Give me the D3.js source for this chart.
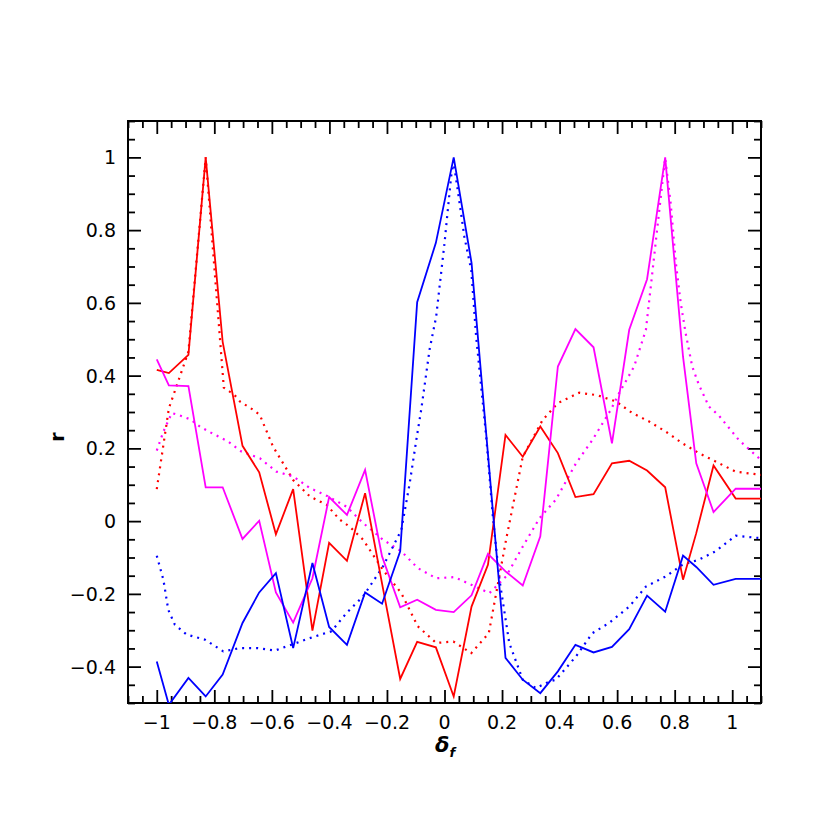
<!DOCTYPE html>
<html>
<head>
<meta charset="utf-8">
<script src="https://cdn.jsdelivr.net/npm/d3@7"></script>
<style>
  body { margin: 0; background: #fff; }
  text { font-family: "DejaVu Sans", sans-serif; }
</style>
</head>
<body>
<div id="chart"></div>
<script>
// shared x positions of the solid curves
var xSolid = [-1.0, -0.958, -0.89, -0.83, -0.771, -0.702, -0.644, -0.586, -0.526, -0.459, -0.401,
  -0.339, -0.276, -0.217, -0.154, -0.095, -0.030, 0.032, 0.094, 0.151, 0.212, 0.272, 0.333,
  0.394, 0.455, 0.518, 0.582, 0.642, 0.704, 0.767, 0.829, 0.875, 0.935, 1.012, 1.1];

var redSolid = [0.416, 0.407, 0.457, 1.0, 0.493, 0.207, 0.134, -0.036, 0.088, -0.301, -0.060,
  -0.109, 0.077, -0.172, -0.434, -0.332, -0.347, -0.482, -0.235, -0.120, 0.237, 0.177, 0.260,
  0.187, 0.066, 0.074, 0.159, 0.166, 0.139, 0.093, -0.161, -0.033, 0.153, 0.062, 0.062];

var blueSolid = [-0.386, -0.505, -0.431, -0.482, -0.422, -0.280, -0.196, -0.143, -0.349, -0.115, -0.291,
  -0.340, -0.196, -0.227, -0.083, 0.602, 0.765, 1.0, 0.710, 0.185, -0.376, -0.436, -0.473,
  -0.413, -0.340, -0.361, -0.346, -0.297, -0.205, -0.249, -0.095, -0.126, -0.175, -0.159, -0.159];

var magentaSolid = [0.445, 0.373, 0.371, 0.093, 0.093, -0.049, 0.001, -0.196, -0.279, -0.157, 0.066,
  0.017, 0.141, -0.097, -0.237, -0.216, -0.244, -0.250, -0.204, -0.090, -0.138, -0.177, -0.042,
  0.425, 0.528, 0.478, 0.214, 0.526, 0.665, 1.0, 0.452, 0.159, 0.025, 0.089, 0.089];

// dotted curves, each with its own x positions
var xRedDot = [-1.0, -0.958, -0.89, -0.83, -0.767, -0.73, -0.711, -0.665, -0.642, -0.596, -0.526,
  -0.468, -0.410, -0.364, -0.330, -0.283, -0.214, -0.150, -0.093, -0.029, 0.031, 0.093, 0.154,
  0.214, 0.272, 0.341, 0.393, 0.468, 0.532, 0.596, 0.653, 0.711, 0.769, 0.827, 0.884, 0.942,
  1.012, 1.1];
var redDot = [0.088, 0.31, 0.466, 1.0, 0.367, 0.347, 0.329, 0.306, 0.292, 0.205, 0.113,
  0.068, 0.045, 0.004, -0.015, -0.051, -0.134, -0.198, -0.289, -0.335, -0.331, -0.363, -0.308,
  -0.051, 0.177, 0.278, 0.324, 0.353, 0.346, 0.329, 0.297, 0.274, 0.246, 0.214, 0.187, 0.164,
  0.136, 0.127];

var xMagDot = [-1.0, -0.977, -0.948, -0.925, -0.884, -0.850, -0.809, -0.752, -0.705, -0.642, -0.584,
  -0.526, -0.468, -0.405, -0.341, -0.283, -0.214, -0.150, -0.093, -0.029, 0.035, 0.093, 0.156,
  0.214, 0.272, 0.330, 0.387, 0.457, 0.514, 0.578, 0.607, 0.659, 0.700, 0.717, 0.740, 0.767,
  0.786, 0.804, 0.821, 0.838, 0.861, 0.884, 0.919, 0.954, 1.023, 1.1];
var magDot = [0.194, 0.246, 0.297, 0.292, 0.280, 0.260, 0.242, 0.219, 0.191, 0.173, 0.136,
  0.123, 0.091, 0.068, 0.040, -0.005, -0.051, -0.083, -0.129, -0.157, -0.154, -0.175, -0.198,
  -0.152, -0.070, 0.008, 0.059, 0.159, 0.223, 0.306, 0.352, 0.425, 0.526, 0.645, 0.809, 0.998,
  0.874, 0.710, 0.600, 0.517, 0.425, 0.375, 0.315, 0.290, 0.223, 0.168];

var xBlueDot = [-1.0, -0.977, -0.960, -0.937, -0.896, -0.832, -0.769, -0.711, -0.648, -0.590, -0.526,
  -0.459, -0.393, -0.341, -0.283, -0.214, -0.150, -0.121, -0.098, -0.081, -0.052, -0.029, 0.0,
  0.023, 0.031, 0.046, 0.069, 0.093, 0.110, 0.145, 0.168, 0.191, 0.225, 0.272, 0.318, 0.364,
  0.387, 0.457, 0.514, 0.572, 0.642, 0.700, 0.769, 0.827, 0.884, 0.942, 1.012, 1.1];
var blueDot = [-0.095, -0.161, -0.244, -0.285, -0.312, -0.326, -0.358, -0.349, -0.349, -0.356, -0.338,
  -0.319, -0.303, -0.253, -0.207, -0.125, -0.024, 0.104, 0.223, 0.306, 0.471, 0.562, 0.764,
  0.947, 0.99, 0.910, 0.782, 0.690, 0.507, 0.232, 0.013, -0.161, -0.335, -0.436, -0.459, -0.441,
  -0.436, -0.372, -0.308, -0.280, -0.235, -0.180, -0.152, -0.120, -0.106, -0.083, -0.040, -0.047];

var xTickVals = [-1, -0.8, -0.6, -0.4, -0.2, 0, 0.2, 0.4, 0.6, 0.8, 1];
var xTickLabels = ["\u22121", "\u22120.8", "\u22120.6", "\u22120.4", "\u22120.2", "0", "0.2", "0.4", "0.6", "0.8", "1"];
var yTickVals = [-0.4, -0.2, 0, 0.2, 0.4, 0.6, 0.8, 1];
var yTickLabels = ["\u22120.4", "\u22120.2", "0", "0.2", "0.4", "0.6", "0.8", "1"];

var W = 830, H = 830;
// frame edges (names avoid the window.top global)
var pLeft = 128, pRight = 761, pTop = 121, pBottom = 703;

var svg = d3.select('#chart').append('svg')
  .attr('width', W).attr('height', H);

var x = d3.scaleLinear().domain([-1.1, 1.1]).range([pLeft, pRight]);
var y = d3.scaleLinear().domain([-0.5, 1.1]).range([pBottom, pTop]);

svg.append('clipPath').attr('id', 'clip')
  .append('rect')
  .attr('x', pLeft).attr('y', pTop)
  .attr('width', pRight - pLeft).attr('height', pBottom - pTop);

// minor ticks every 0.05
var xMinor = d3.range(-22, 23).map(function(i) { return i * 0.05; })
  .filter(function(v) { return Math.abs(Math.round(v * 100) % 20) !== 0; });
var yMinor = d3.range(-10, 23).map(function(i) { return i * 0.05; })
  .filter(function(v) { return Math.abs(Math.round(v * 100) % 20) !== 0; });

function drawAxis(axisFn, scale, vals, size, tr) {
  svg.append('g')
    .attr('transform', tr)
    .call(axisFn(scale).tickValues(vals).tickSize(-size).tickFormat(''))
    .call(function(g) {
      g.select('.domain').remove();
      g.selectAll('line').attr('stroke', '#000').attr('stroke-width', 1.8);
    });
}

// ticks on all four sides, pointing inward
drawAxis(d3.axisBottom, x, xTickVals, 13, 'translate(0,' + pBottom + ')');
drawAxis(d3.axisBottom, x, xMinor, 7, 'translate(0,' + pBottom + ')');
drawAxis(d3.axisTop, x, xTickVals, 13, 'translate(0,' + pTop + ')');
drawAxis(d3.axisTop, x, xMinor, 7, 'translate(0,' + pTop + ')');
drawAxis(d3.axisLeft, y, yTickVals, 13, 'translate(' + pLeft + ',0)');
drawAxis(d3.axisLeft, y, yMinor, 7, 'translate(' + pLeft + ',0)');
drawAxis(d3.axisRight, y, yTickVals, 13, 'translate(' + pRight + ',0)');
drawAxis(d3.axisRight, y, yMinor, 7, 'translate(' + pRight + ',0)');

svg.append('rect')
  .attr('x', pLeft).attr('y', pTop)
  .attr('width', pRight - pLeft).attr('height', pBottom - pTop)
  .attr('fill', 'none').attr('stroke', '#000').attr('stroke-width', 2);

// tick labels
svg.selectAll('.xlab').data(xTickVals).enter().append('text')
  .attr('x', function(d) { return x(d); })
  .attr('y', 729)
  .attr('text-anchor', 'middle')
  .attr('font-size', 19)
  .text(function(d, i) { return xTickLabels[i]; });

svg.selectAll('.ylab').data(yTickVals).enter().append('text')
  .attr('x', 116)
  .attr('y', function(d) { return y(d) + 7; })
  .attr('text-anchor', 'end')
  .attr('font-size', 19)
  .text(function(d, i) { return yTickLabels[i]; });

// axis titles
svg.append('text')
  .attr('transform', 'translate(64,437) rotate(-90)')
  .attr('text-anchor', 'middle')
  .attr('font-size', 19)
  .attr('font-family', 'DejaVu Serif, serif')
  .attr('font-weight', 'bold')
  .text('r');

var xt = svg.append('text')
  .attr('x', 445).attr('y', 752)
  .attr('text-anchor', 'middle')
  .attr('font-size', 21)
  .attr('font-family', 'DejaVu Serif, serif')
  .attr('font-style', 'italic')
  .attr('font-weight', 'bold');
xt.append('tspan').text('\u03b4');
xt.append('tspan').attr('font-size', 13).attr('dy', 5).text('f');

// curves
var plot = svg.append('g').attr('clip-path', 'url(#clip)');

function drawLine(xs, ys, color, dotted) {
  var line = d3.line()
    .x(function(d, i) { return x(xs[i]); })
    .y(function(d) { return y(d); });
  var p = plot.append('path')
    .attr('d', line(ys))
    .attr('fill', 'none')
    .attr('stroke', color)
    .attr('stroke-width', dotted ? 2.2 : 1.8)
    .attr('stroke-linejoin', 'miter');
  if (dotted) p.attr('stroke-dasharray', '2,5');
}

drawLine(xRedDot, redDot, '#ff0000', true);
drawLine(xMagDot, magDot, '#ff00ff', true);
drawLine(xBlueDot, blueDot, '#0000ff', true);
drawLine(xSolid, redSolid, '#ff0000', false);
drawLine(xSolid, magentaSolid, '#ff00ff', false);
drawLine(xSolid, blueSolid, '#0000ff', false);
</script>
</body>
</html>
